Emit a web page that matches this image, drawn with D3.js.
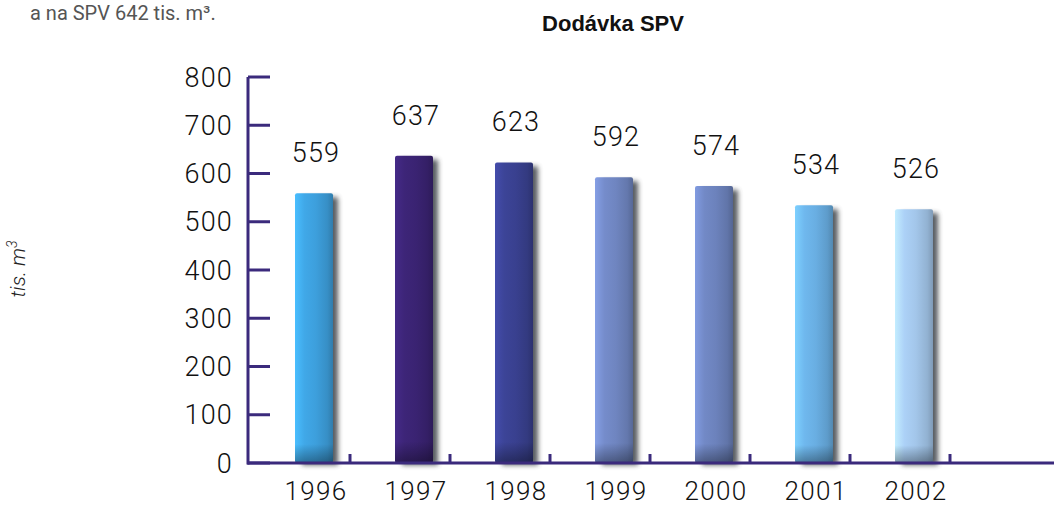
<!DOCTYPE html>
<html><head><meta charset="utf-8">
<script src="https://cdn.jsdelivr.net/npm/d3@7"></script>
<style>body{margin:0;background:#fff}svg{display:block}</style>
</head><body>
<svg id="c" width="1054" height="509"></svg>
<script>
const years = ["1996","1997","1998","1999","2000","2001","2002"];
const values = [559, 637, 623, 592, 574, 534, 526];
const barColors = ["#3d9fdc","#3a2372","#39408f","#6f85c0","#6c82bc","#69aee2","#a3c6ea"];
const yTicks = [0,100,200,300,400,500,600,700,800];
const title = "Dodávka SPV";

const svg = d3.select("#c");
const W = 1054, H = 509;
const axisColor = "#3b2a7c";
const font = "Roboto, 'Liberation Sans', sans-serif";

const y = d3.scaleLinear().domain([0, 800]).range([463, 77]);
const x = d3.scaleBand().domain(years).range([264, 964]).paddingInner(0).paddingOuter(0);
const barW = 38, barOff = 31;

const defs = svg.append("defs");
const blur = defs.append("filter").attr("id","blur").attr("x","-50%").attr("y","-10%").attr("width","200%").attr("height","120%");
blur.append("feGaussianBlur").attr("stdDeviation", 2.5);

barColors.forEach((c, i) => {
  const g = defs.append("linearGradient").attr("id","g"+i).attr("x1","0").attr("x2","1").attr("y1","0").attr("y2","0");
  const col = d3.color(c);
  g.append("stop").attr("offset","0%").attr("stop-color", col.brighter(0.5));
  g.append("stop").attr("offset","25%").attr("stop-color", col.brighter(0.15));
  g.append("stop").attr("offset","55%").attr("stop-color", col);
  g.append("stop").attr("offset","85%").attr("stop-color", col.darker(0.3));
  g.append("stop").attr("offset","100%").attr("stop-color", col.darker(0.7));
  const gv = defs.append("linearGradient").attr("id","v"+i).attr("x1","0").attr("x2","0").attr("y1","0").attr("y2","1");
  gv.append("stop").attr("offset","0%").attr("stop-color","#000").attr("stop-opacity",0);
  gv.append("stop").attr("offset","93%").attr("stop-color","#000").attr("stop-opacity",0);
  gv.append("stop").attr("offset","100%").attr("stop-color","#000").attr("stop-opacity",0.35);
});

// top text (cut off in the source page)
svg.append("text").attr("x", 30).attr("y", 20).attr("font-family", font).attr("font-size", 20)
  .attr("fill", "#555").text("a na SPV 642 tis. m³.");

// title
svg.append("text").attr("x", 613).attr("y", 31).attr("text-anchor","middle")
  .attr("font-family","'Liberation Sans', Arial, sans-serif").attr("font-weight","bold").attr("font-size",22)
  .attr("fill","#111").text(title);

// y label
const yl = svg.append("text").attr("transform","translate(25,269) rotate(-90)").attr("text-anchor","middle")
  .attr("font-family", font).attr("font-style","italic").attr("font-weight",300).attr("font-size",21).attr("fill","#222");
yl.append("tspan").text("tis. m");
yl.append("tspan").attr("dy",-8).attr("font-size",14).text("3");

// bars
const bars = svg.append("g");
years.forEach((yr, i) => {
  const bx = x(yr) + barOff, by = y(values[i]), bh = y(0) - by;
  bars.append("rect").attr("x", bx + 7).attr("y", by + 4).attr("width", barW - 2).attr("height", bh - 2)
    .attr("fill", "#3a3f45").attr("opacity", 0.85).attr("filter","url(#blur)");
  bars.append("rect").attr("x", bx).attr("y", by).attr("width", barW).attr("height", bh)
    .attr("rx", 2).attr("fill", `url(#g${i})`);
  bars.append("rect").attr("x", bx).attr("y", by).attr("width", barW).attr("height", bh)
    .attr("rx", 2).attr("fill", `url(#v${i})`);
  svg.append("text").attr("x", bx + barW/2 + 2).attr("y", by - 31).attr("text-anchor","middle")
    .attr("font-family", font).attr("font-weight", 300).attr("font-size", 27).attr("letter-spacing", 1.2)
    .attr("fill","#111").text(values[i]);
});

// y axis
const ya = svg.append("g");
ya.append("line").attr("x1",248).attr("x2",248).attr("y1",y(800)).attr("y2",y(0)+1.5)
  .attr("stroke",axisColor).attr("stroke-width",3);
yTicks.forEach(t => {
  ya.append("line").attr("x1",248).attr("x2",270).attr("y1",y(t)).attr("y2",y(t))
    .attr("stroke",axisColor).attr("stroke-width",3);
  ya.append("text").attr("x",233).attr("y",y(t)).attr("dy","0.36em").attr("text-anchor","end")
    .attr("font-family",font).attr("font-weight",300).attr("font-size",27).attr("letter-spacing",1.2)
    .attr("fill","#111").text(t);
});

// x axis
const xa = svg.append("g");
xa.append("line").attr("x1",247).attr("x2",W).attr("y1",y(0)).attr("y2",y(0))
  .attr("stroke",axisColor).attr("stroke-width",3);
years.forEach((yr, i) => {
  const tx = x(yr) + x.bandwidth() - 14;
  xa.append("line").attr("x1",tx).attr("x2",tx).attr("y1",y(0)).attr("y2",y(0)-9)
    .attr("stroke",axisColor).attr("stroke-width",3);
  xa.append("text").attr("x", x(yr) + barOff + barW/2 + 2).attr("y", 500).attr("text-anchor","middle")
    .attr("font-family",font).attr("font-weight",300).attr("font-size",26).attr("letter-spacing",1.3)
    .attr("fill","#111").text(yr);
});
</script>
</body></html>
